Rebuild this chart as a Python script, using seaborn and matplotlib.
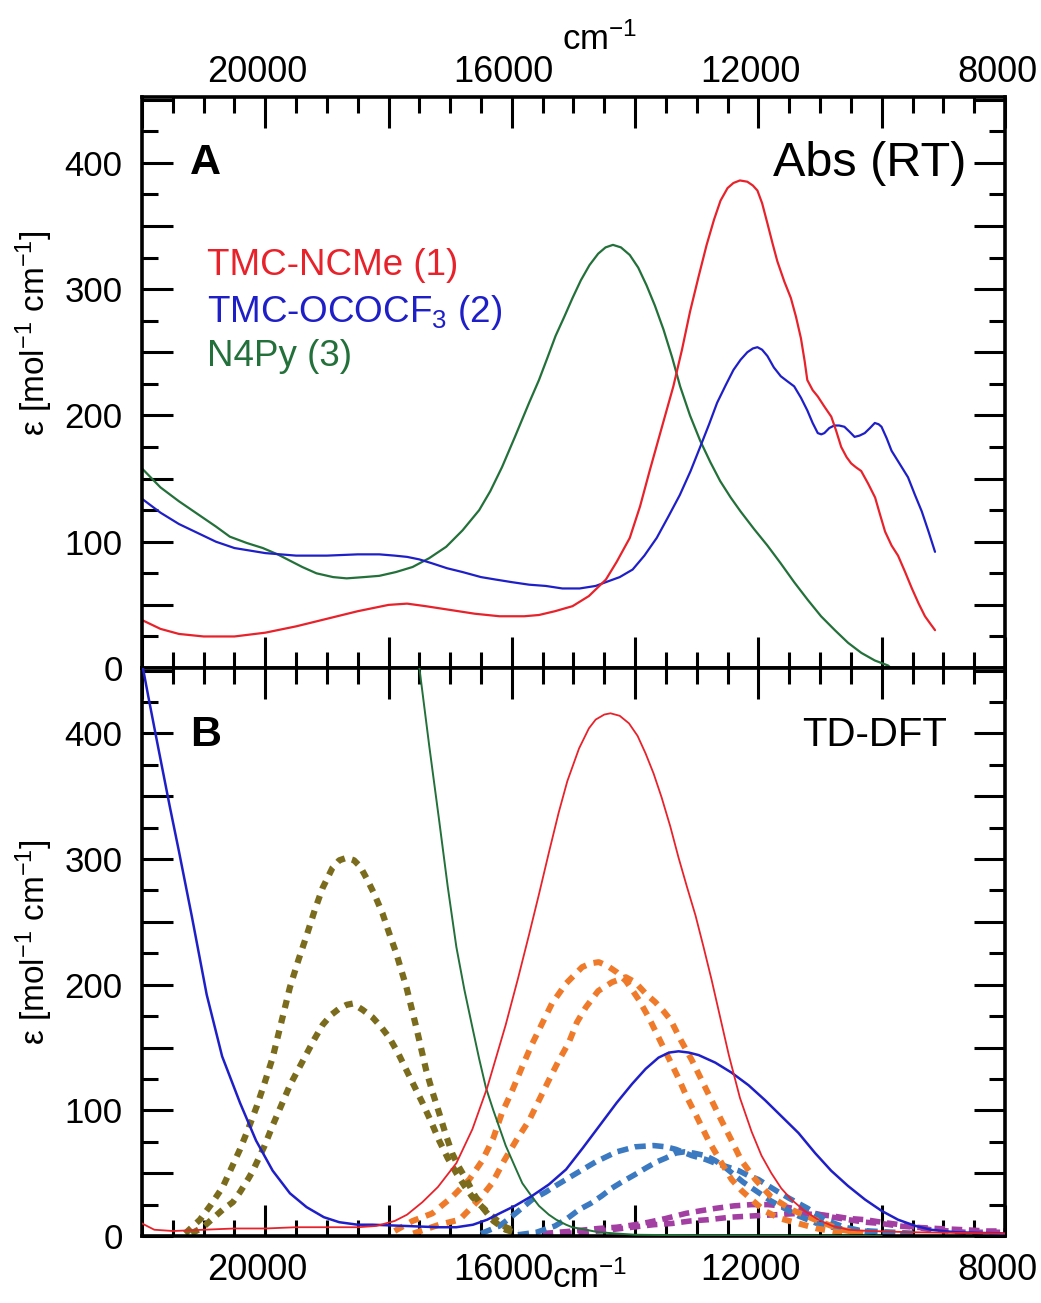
import matplotlib
matplotlib.use("Agg")
import matplotlib.pyplot as plt
from matplotlib.ticker import MultipleLocator, FuncFormatter
import matplotlib.transforms as mtransforms
import seaborn as sns

# ---------------- Panel A: experimental absorption (RT) ----------------
A_RED_WN = [22000, 21700, 21400, 21000, 20500, 20000, 19500, 19000, 18500, 18000, 17700, 17400,
            17000, 16600, 16200, 15800, 15560, 15300, 15015, 14750, 14475, 14300, 14087, 13920,
            13765, 13570, 13380, 13240, 13110, 12970, 12840, 12720, 12615, 12500, 12405, 12300,
            12180, 12090, 12016, 11940, 11854, 11770, 11693, 11580, 11474, 11390, 11310, 11250,
            11207, 11120, 11037, 10930, 10818, 10740, 10657, 10570, 10495, 10420, 10333, 10220,
            10107, 10030, 9945, 9840, 9735, 9620, 9510, 9400, 9298, 9210, 9135]
A_RED_EPS = [38, 31, 27, 25, 25, 28, 33, 39, 45, 50, 51, 49,
             46, 43, 41, 41, 42, 45, 49, 57, 70, 84, 103, 128,
             156, 190, 223, 252, 282, 310, 335, 355, 370, 380, 384, 386,
             385, 382, 378, 368, 352, 336, 322, 306, 293, 278, 261, 243,
             228, 220, 215, 207, 199, 188, 175, 167, 162, 159, 156, 146,
             135, 122, 108, 97, 89, 76, 63, 51, 41, 35, 30]

A_BLUE_WN = [22000, 21700, 21400, 21100, 20800, 20500, 20000, 19500, 19000, 18500, 18150, 17900,
             17700, 17500, 17300, 17050, 16800, 16500, 16255, 16000, 15720, 15450, 15180, 14900,
             14640, 14475, 14250, 14040, 13850, 13650, 13460, 13275, 13100, 12945, 12800, 12670,
             12530, 12405, 12290, 12180, 12090, 12016, 11940, 11854, 11750, 11637, 11530, 11420,
             11310, 11207, 11120, 11037, 10980, 10930, 10850, 10770, 10690, 10605, 10520, 10440,
             10360, 10275, 10190, 10112, 10050, 10003, 9920, 9840, 9700, 9573, 9460, 9350, 9240, 9135]
A_BLUE_EPS = [134, 123, 114, 107, 100, 95, 91, 89, 89, 90, 90, 89,
              88, 86, 83, 79, 76, 72, 70, 68, 66, 65, 63, 63,
              65, 68, 72, 78, 89, 103, 120, 137, 156, 175, 193, 210,
              224, 236, 244, 250, 253, 254, 252, 247, 238, 231, 227, 223,
              214, 204, 194, 186, 185, 186, 190, 192, 192, 191, 187, 183,
              184, 186, 190, 194, 193, 191, 182, 172, 161, 151, 137, 124, 108, 92]

A_GREEN_WN = [22000, 21700, 21400, 21100, 20800, 20575, 20300, 20040, 19800, 19600, 19400, 19170,
              18900, 18680, 18400, 18150, 17880, 17610, 17340, 17065, 16800, 16530, 16350, 16160,
              15950, 15720, 15560, 15420, 15290, 15150, 15015, 14880, 14740, 14600, 14480, 14360,
              14230, 14087, 13950, 13815, 13680, 13540, 13400, 13270, 13110, 12945, 12780, 12620,
              12450, 12290, 12070, 11854, 11640, 11420, 11200, 10984, 10760, 10546, 10330, 10112,
              9896, 9850]
A_GREEN_EPS = [158, 143, 132, 122, 112, 104, 99, 95, 90, 85, 80, 75,
               72, 71, 72, 73, 76, 80, 87, 96, 109, 125, 140, 159,
               183, 210, 228, 246, 263, 278, 293, 307, 319, 328, 333, 335,
               333, 327, 317, 303, 287, 268, 246, 223, 200, 180, 163, 148,
               135, 124, 110, 97, 83, 68, 54, 41, 30, 20, 12, 6,
               2, 0]

A_LABELS = ["TMC-NCMe (1)", "TMC-OCOCF$_3$ (2)", "N4Py (3)"]

# ---------------- Panel B: TD-DFT simulated spectra ----------------
B_RED_WN = [22000, 21800, 21500, 21000, 20500, 20000, 19500, 19000, 18500, 18200, 17900, 17700,
            17450, 17200, 16900, 16640, 16400, 16250, 16100, 15900, 15720, 15560, 15400, 15240,
            15100, 14910, 14750, 14640, 14500, 14400, 14250, 14100, 13960, 13830, 13700, 13570,
            13430, 13295, 13160, 13020, 12890, 12760, 12620, 12480, 12300, 12110, 11950, 11790,
            11630, 11465, 11250, 11030, 10800, 10540, 10200, 9500, 8000]
B_RED_EPS = [10, 5, 4, 5, 6, 6, 7, 7, 7, 8, 12, 17,
             27, 39, 58, 85, 118, 143, 168, 205, 240, 272, 305, 337,
             362, 388, 404, 411, 415, 416, 414, 408, 398, 384, 368, 349,
             326, 301, 278, 255, 230, 204, 174, 144, 110, 83, 64, 50,
             38, 29, 20, 13, 8, 5, 4, 3, 2]

B_BLUE_WN = [22000, 21900, 21750, 21550, 21400, 21190, 20950, 20700, 20410, 20150, 19880, 19600,
             19330, 19050, 18800, 18500, 18260, 17720, 17200, 16900, 16630, 16400, 16200, 15950,
             15670, 15400, 15120, 14850, 14590, 14300, 14050, 13830, 13620, 13450, 13295, 13130,
             12970, 12700, 12435, 12160, 11890, 11620, 11350, 11080, 10820, 10550, 10270, 10000,
             9735, 9450, 9200, 8800, 8000]
B_BLUE_EPS = [456, 430, 392, 342, 306, 254, 192, 143, 106, 76, 52, 34,
              23, 15, 11, 9, 9, 8, 7, 7, 9, 13, 18, 24,
              32, 41, 53, 70, 87, 106, 121, 133, 142, 146, 147, 146,
              144, 138, 130, 120, 108, 95, 82, 66, 52, 40, 29, 20,
              13, 8, 5, 3, 2]

B_GREEN_WN = [17560, 17500, 17340, 17180, 17040, 16900, 16770, 16640, 16530, 16420, 16300, 16200,
              16100, 15930, 15830, 15670, 15560, 15400, 15280, 15120, 15020, 14800, 14590, 14300,
              14000, 13000, 12000, 11000, 10000]
B_GREEN_EPS = [475, 452, 390, 331, 278, 230, 196, 166, 141, 118, 100, 86,
               72, 53, 42, 31, 24, 17, 13, 9, 7, 5, 3, 2,
               1, 0.5, 0.3, 0.2, 0]

OLIVE_HI_WN = [21300, 21060, 20880, 20690, 20550, 20410, 20270, 20140, 20010, 19880, 19740, 19600,
               19460, 19330, 19200, 19070, 18910, 18800, 18680, 18560, 18460, 18360, 18230, 18100,
               17990, 17875, 17790, 17710, 17630, 17550, 17470, 17390, 17290, 17180, 17080, 16970,
               16860, 16740, 16610, 16480, 16300, 16100, 15900]
OLIVE_HI_EPS = [2, 13, 25, 39, 54, 69, 86, 103, 122, 142, 170, 198,
                220, 239, 259, 277, 293, 299, 301, 299, 294, 285, 272, 257,
                241, 225, 211, 198, 182, 166, 149, 132, 115, 98, 82, 66,
                55, 45, 33, 23, 12, 5, 2]

OLIVE_LO_WN = [21200, 21010, 20850, 20690, 20525, 20410, 20270, 20200, 20010, 19880, 19740, 19600,
               19460, 19330, 19200, 19070, 18930, 18800, 18680, 18580, 18420, 18260, 18130, 17990,
               17850, 17710, 17580, 17450, 17310, 17180, 17040, 16900, 16770, 16640, 16500, 16370,
               16230, 16100, 15900]
OLIVE_LO_EPS = [2, 7, 14, 21, 27, 35, 46, 52, 72, 88, 104, 120,
                133, 145, 157, 168, 176, 181, 184, 185, 180, 174, 167, 158,
                146, 132, 119, 106, 91, 76, 62, 50, 40, 31, 24, 18,
                12, 7, 3]

ORANGE_HI_WN = [17900, 17610, 17290, 16970, 16690, 16480, 16300, 16160, 16000, 15830, 15670, 15510,
                15350, 15120, 14860, 14720, 14590, 14450, 14300, 14150, 14050, 13940, 13780, 13620,
                13460, 13300, 13165, 13000, 12810, 12620, 12435, 12270, 12110, 11900, 11650, 11350,
                11050, 10700, 10300]
ORANGE_HI_EPS = [4, 12, 18, 31, 45, 60, 78, 98, 115, 135, 153, 169,
                 185, 201, 214, 217, 218, 215, 210, 203, 196, 188, 174, 158,
                 142, 126, 111, 95, 76, 60, 45, 36, 29, 20, 14, 10,
                 6, 3, 1]

ORANGE_LO_WN = [17600, 17180, 16850, 16530, 16320, 16125, 15930, 15720, 15560, 15400, 15235, 15075,
                14945, 14800, 14600, 14375, 14150, 14000, 13830, 13670, 13540, 13425, 13260, 13080,
                12920, 12760, 12600, 12435, 12275, 12050, 11790, 11465, 11080, 10655, 10300]
ORANGE_LO_EPS = [2, 9, 13, 29, 42, 60, 76, 92, 108, 124, 140, 154,
                 170, 182, 195, 202, 206, 202, 193, 186, 179, 172, 156, 140,
                 124, 108, 92, 76, 60, 45, 31, 21, 13, 5, 2]

STEEL_HI_WN = [16500, 16200, 15990, 15670, 15450, 15290, 14950, 14640, 14300, 14000, 13700, 13500,
               13340, 13080, 12860, 12700, 12500, 12320, 12160, 12000, 11840, 11675, 11500, 11350,
               11200, 11080, 10950, 10820, 10600, 10300, 9900, 9500]
STEEL_HI_EPS = [2, 8, 16, 29, 35, 40, 50, 59, 67, 71, 72, 71,
                69, 64, 61, 58, 55, 52, 48, 45, 40, 35, 30, 26,
                22, 18, 14, 11, 7, 4, 2, 1]

STEEL_LO_WN = [15900, 15600, 15300, 15100, 14910, 14720, 14540, 14380, 14215, 14000, 13830, 13650,
               13505, 13340, 13200, 13050, 12860, 12700, 12550, 12400, 12250, 12100, 11950, 11800,
               11650, 11500, 11350, 11200, 11050, 10900, 10700, 10500, 10200, 9800, 9400]
STEEL_LO_EPS = [1, 3, 8, 14, 21, 26, 32, 38, 43, 49, 54, 59,
                62, 66, 67, 66, 64, 60, 55, 49, 43, 38, 33, 28,
                24, 20, 16, 13, 10, 8, 6, 5, 4, 3, 2]

PURPLE_HI_WN = [15500, 15000, 14600, 14300, 14000, 13780, 13500, 13180, 12950, 12700, 12400, 12110,
                11850, 11630, 11350, 11080, 10800, 10540, 10270, 10010, 9730, 9460, 9100, 8650,
                8300, 8000]
PURPLE_HI_EPS = [2, 4, 6, 7, 9, 11, 14, 18, 20, 22, 24, 25,
                 25, 24, 21, 18, 15, 13, 11, 10, 8, 7, 6, 5,
                 4, 4]

PURPLE_LO_WN = [15200, 14800, 14400, 14050, 13700, 13400, 13100, 12810, 12450, 12100, 11700, 11350,
                11050, 10800, 10540, 10270, 10000, 9700, 9450, 9200, 8900, 8650, 8300, 8000]
PURPLE_LO_EPS = [2, 3, 5, 7, 9, 10, 12, 13, 15, 16, 17, 18,
                 17, 16, 14, 13, 11, 9, 7, 5, 4, 3, 3, 3]

RED = "#e8222b"
BLUE = "#1f1fc8"
GREEN = "#23703a"
OLIVE = "#7a6c1c"
ORANGE = "#ef7a2a"
STEEL = "#3b79c0"
PURPLE = "#a33fa2"

# ---------------- style ----------------
sns.set_theme(style="ticks")
plt.rcParams["font.family"] = ["Liberation Sans", "DejaVu Sans"]
plt.rcParams["mathtext.fontset"] = "custom"
plt.rcParams["mathtext.rm"] = "Liberation Sans"
plt.rcParams["mathtext.it"] = "Liberation Sans:italic"
plt.rcParams["mathtext.bf"] = "Liberation Sans:bold"
plt.rcParams["axes.linewidth"] = 2.6
plt.rcParams["axes.edgecolor"] = "black"
plt.rcParams["text.color"] = "black"
plt.rcParams["xtick.color"] = "black"
plt.rcParams["ytick.color"] = "black"

fig = plt.figure(figsize=(10.41, 13.03), dpi=100)
L, W = 0.1364, 0.829
axA = fig.add_axes([L, 0.4873, W, 0.4382])
axB = fig.add_axes([L, 0.0514, W, 0.4359])


def curve(ax, x, y, color, lw, dash=None, z=2):
    kw = dict(x=x, y=y, ax=ax, color=color, linewidth=lw, sort=False,
              estimator=None, legend=False, zorder=z)
    if dash is not None:
        kw["linestyle"] = (0, dash)
    sns.lineplot(**kw)


# panel A
curve(axA, A_GREEN_WN, A_GREEN_EPS, GREEN, 1.6)
curve(axA, A_BLUE_WN, A_BLUE_EPS, BLUE, 1.6)
curve(axA, A_RED_WN, A_RED_EPS, RED, 1.6)

# panel B: dashed individual-transition envelopes, then the summed spectra
curve(axB, PURPLE_LO_WN, PURPLE_LO_EPS, PURPLE, 4.0, (1.9, 1.2))
curve(axB, PURPLE_HI_WN, PURPLE_HI_EPS, PURPLE, 4.0, (1.9, 1.2))
curve(axB, STEEL_LO_WN, STEEL_LO_EPS, STEEL, 4.0, (2.0, 1.2))
curve(axB, STEEL_HI_WN, STEEL_HI_EPS, STEEL, 4.0, (2.0, 1.2))
curve(axB, ORANGE_LO_WN, ORANGE_LO_EPS, ORANGE, 4.3, (1.6, 1.3))
curve(axB, ORANGE_HI_WN, ORANGE_HI_EPS, ORANGE, 4.3, (1.6, 1.3))
curve(axB, OLIVE_LO_WN, OLIVE_LO_EPS, OLIVE, 4.5, (1.3, 1.2))
curve(axB, OLIVE_HI_WN, OLIVE_HI_EPS, OLIVE, 4.5, (1.3, 1.2))
curve(axB, B_GREEN_WN, B_GREEN_EPS, GREEN, 1.4, z=3)
curve(axB, B_BLUE_WN, B_BLUE_EPS, BLUE, 1.8, z=3)
curve(axB, B_RED_WN, B_RED_EPS, RED, 1.3, z=3)

xfmt = FuncFormatter(lambda v, p: f"{int(round(v))}" if int(round(v)) % 4000 == 0 else "")
yfmt = FuncFormatter(lambda v, p: f"{int(round(v))}" if int(round(v)) % 100 == 0 and v <= 400 else "")

for ax in (axA, axB):
    ax.set_xlim(22000, 8000)
    ax.set_ylim(0, 452)
    ax.set_xlabel("")
    ax.set_ylabel("")
    ax.xaxis.set_major_locator(MultipleLocator(2000))
    ax.xaxis.set_minor_locator(MultipleLocator(500))
    ax.yaxis.set_major_locator(MultipleLocator(50))
    ax.yaxis.set_minor_locator(MultipleLocator(25))
    ax.xaxis.set_major_formatter(xfmt)
    ax.yaxis.set_major_formatter(yfmt)
    ax.tick_params(which="both", direction="in", top=True, right=True,
                   width=2.2, colors="black")
    ax.tick_params(axis="x", labelsize=26)
    ax.tick_params(axis="y", labelsize=25, pad=14)
    ax.tick_params(which="major", length=22)
    ax.tick_params(which="minor", length=11.5)
    for s in ax.spines.values():
        s.set_linewidth(2.6)
        s.set_color("black")
    ax.set_facecolor("white")

axA.tick_params(axis="x", labeltop=True, labelbottom=False, pad=5)
axB.tick_params(axis="x", labeltop=False, labelbottom=True, pad=12)

shift = mtransforms.ScaledTranslation(-8 / 100, 0, fig.dpi_scale_trans)
for ax in (axA, axB):
    for lab in ax.get_xticklabels():
        lab.set_transform(lab.get_transform() + shift)

# panel annotations
axA.text(0.056, 0.884, "A", transform=axA.transAxes, fontsize=31, fontweight="bold",
         ha="left", va="center")
axA.text(0.955, 0.884, "Abs (RT)", transform=axA.transAxes, fontsize=35,
         ha="right", va="center")
axB.text(0.056, 0.882, "B", transform=axB.transAxes, fontsize=31, fontweight="bold",
         ha="left", va="center")
axB.text(0.933, 0.882, "TD-DFT", transform=axB.transAxes, fontsize=29,
         ha="right", va="center")

for lab, col, yy in zip(A_LABELS, (RED, BLUE, GREEN), (0.705, 0.622, 0.546)):
    axA.text(0.075, yy, lab, transform=axA.transAxes, fontsize=26.5, color=col,
             ha="left", va="center")

ylab = "\u03b5 [mol$^{-1}$ cm$^{-1}$]"
fig.text(0.033, 1 - 333 / 1303, ylab, rotation=90, fontsize=24, ha="center", va="center")
fig.text(0.033, 1 - 942 / 1303, ylab, rotation=90, fontsize=24, ha="center", va="center")

fig.text(600 / 1041, 1 - 40 / 1303, "cm$^{-1}$", fontsize=25, ha="center", va="center")
fig.text(590 / 1041, 1 - 1278 / 1303, "cm$^{-1}$", fontsize=25, ha="center", va="center")

fig.savefig("out.png", dpi=100, facecolor="white")
